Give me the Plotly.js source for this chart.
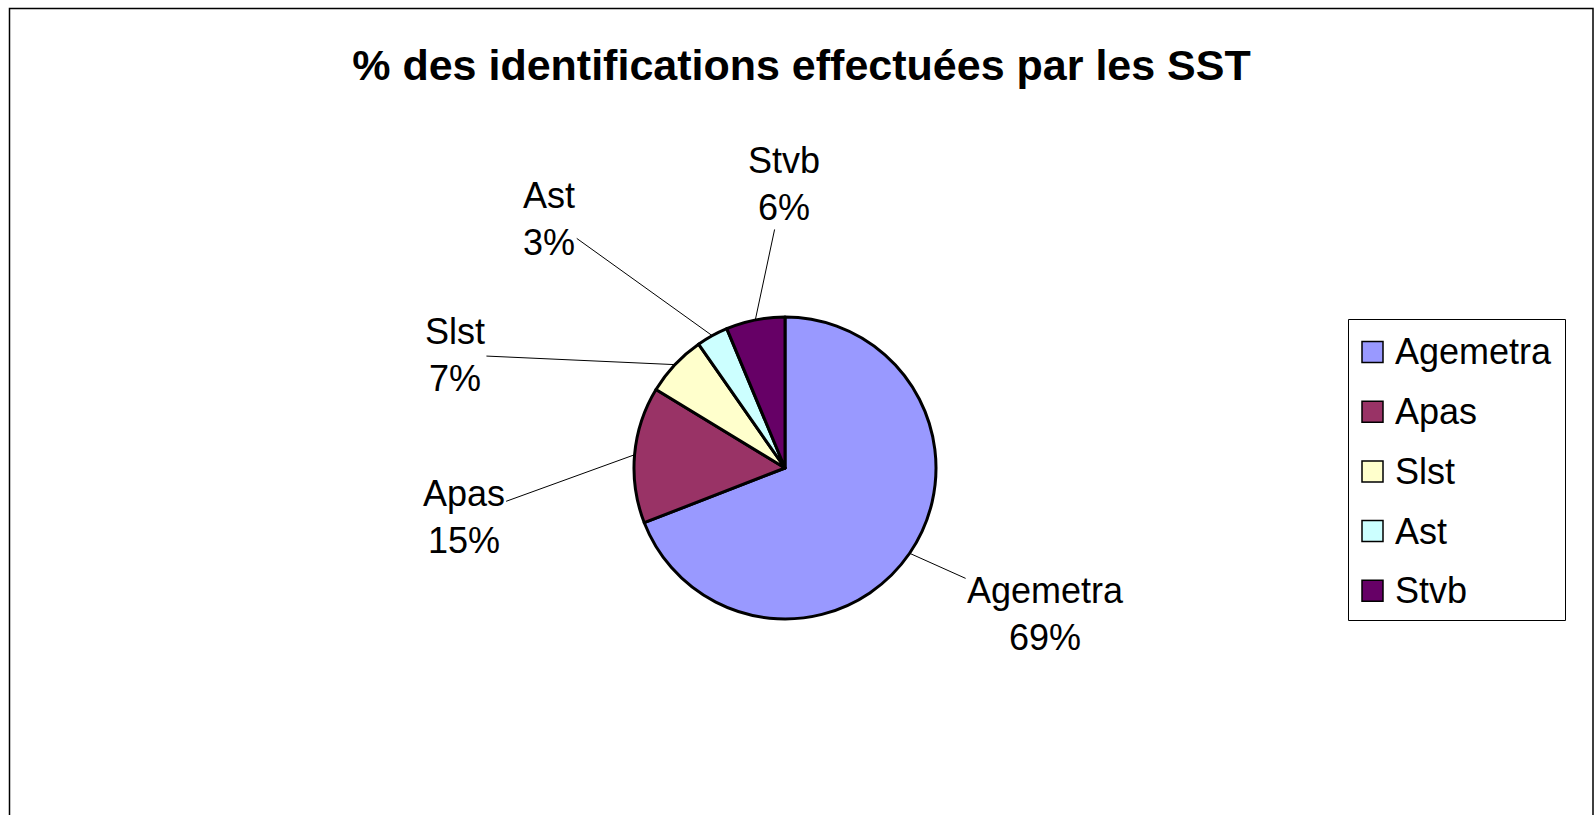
<!DOCTYPE html>
<html>
<head>
<meta charset="utf-8">
<script src="https://cdn.plot.ly/plotly-3.0.1.min.js"></script>
<style>
  html, body { margin: 0; padding: 0; background: #ffffff; }
  #chart { width: 1595px; height: 815px; }
</style>
</head>
<body>
<div id="chart"></div>
<script>
// ---- Data ----
const categories = ["Agemetra", "Apas", "Slst", "Ast", "Stvb"];
const shares = [69.1, 14.6, 6.6, 3.4, 6.3];
const sliceColors = ["#9999FF", "#993366", "#FFFFCC", "#CCFFFF", "#660066"];
const chartTitle = "% des identifications effectuées par les SST";
// label text offsets (px) from the pie edge point at each slice's mid angle
const labelOffsetX = [136, -171, -220, -163, 29];
const labelOffsetY = [61, 62, -10, -117, -136];

// ---- Geometry ----
const W = 1595, H = 815;
const cx = 785, cy = 468, R = 151;   // pie centre and radius (px)
const dom = {
  x: [(cx - R) / W, (cx + R) / W],
  y: [(H - cy - R) / H, (H - cy + R) / H]
};
const FONT = "Liberation Sans, Arial, sans-serif";

// ---- Leader-line labels computed from data ----
const total = shares.reduce((a, b) => a + b, 0);
let cum = 0;
const annotations = [];
shares.forEach((v, i) => {
  const mid = (cum + v / 2) / total * 2 * Math.PI; // clockwise from 12 o'clock
  cum += v;
  const px = cx + R * Math.sin(mid);
  const py = cy - R * Math.cos(mid);
  const pct = Math.round(v / total * 100);
  annotations.push({
    x: px / W, y: 1 - py / H, xref: "paper", yref: "paper",
    text: categories[i] + "<br>" + pct + "%",
    showarrow: true, arrowhead: 0, arrowwidth: 1, arrowcolor: "#000000",
    ax: labelOffsetX[i], ay: labelOffsetY[i], standoff: 0, startstandoff: 0,
    font: { family: FONT, size: 36, color: "#000000" },
    align: "center"
  });
});

// ---- Legend (box, swatches, labels) built from the same arrays ----
const shapes = [{
  type: "rect", xref: "paper", yref: "paper",
  x0: 9.5 / W, x1: 1593 / W, y0: -0.02, y1: 1 - 8.5 / H,
  line: { color: "#000000", width: 1.5 }, fillcolor: "rgba(0,0,0,0)", layer: "below"
}, {
  type: "rect", xref: "paper", yref: "paper",
  x0: 1348.5 / W, x1: 1565.5 / W, y0: 1 - 620.5 / H, y1: 1 - 319.5 / H,
  line: { color: "#000000", width: 1 }, fillcolor: "#ffffff", layer: "below"
}];
const legTop = 352, legStep = 59.7, sw = 21;
categories.forEach((c, i) => {
  const yc = legTop + i * legStep;
  shapes.push({
    type: "rect", xref: "paper", yref: "paper",
    x0: 1362 / W, x1: (1362 + sw) / W,
    y0: 1 - (yc + sw / 2) / H, y1: 1 - (yc - sw / 2) / H,
    line: { color: "#000000", width: 1.5 }, fillcolor: sliceColors[i]
  });
  annotations.push({
    x: 1393 / W, y: 1 - yc / H, xref: "paper", yref: "paper",
    xanchor: "left", yanchor: "middle", showarrow: false,
    text: c, font: { family: FONT, size: 36, color: "#000000" }
  });
});

const data = [{
  type: "pie",
  labels: categories,
  values: shares,
  sort: false,
  direction: "clockwise",
  rotation: 0,
  textinfo: "none",
  hoverinfo: "label+percent",
  marker: { colors: sliceColors, line: { color: "#000000", width: 3 } },
  domain: dom
}];

const layout = {
  width: W, height: H,
  margin: { l: 0, r: 0, t: 0, b: 0 },
  paper_bgcolor: "#ffffff",
  font: { family: FONT, color: "#000000" },
  title: {
    text: "<b>" + chartTitle + "</b>",
    font: { family: FONT, size: 43, color: "#000000" },
    x: 801.5 / W, xanchor: "center", xref: "paper",
    y: 1 - 65 / H, yanchor: "middle", yref: "paper"
  },
  showlegend: false,
  annotations: annotations,
  shapes: shapes
};

Plotly.newPlot("chart", data, layout, { displayModeBar: false, staticPlot: true });
</script>
</body>
</html>
